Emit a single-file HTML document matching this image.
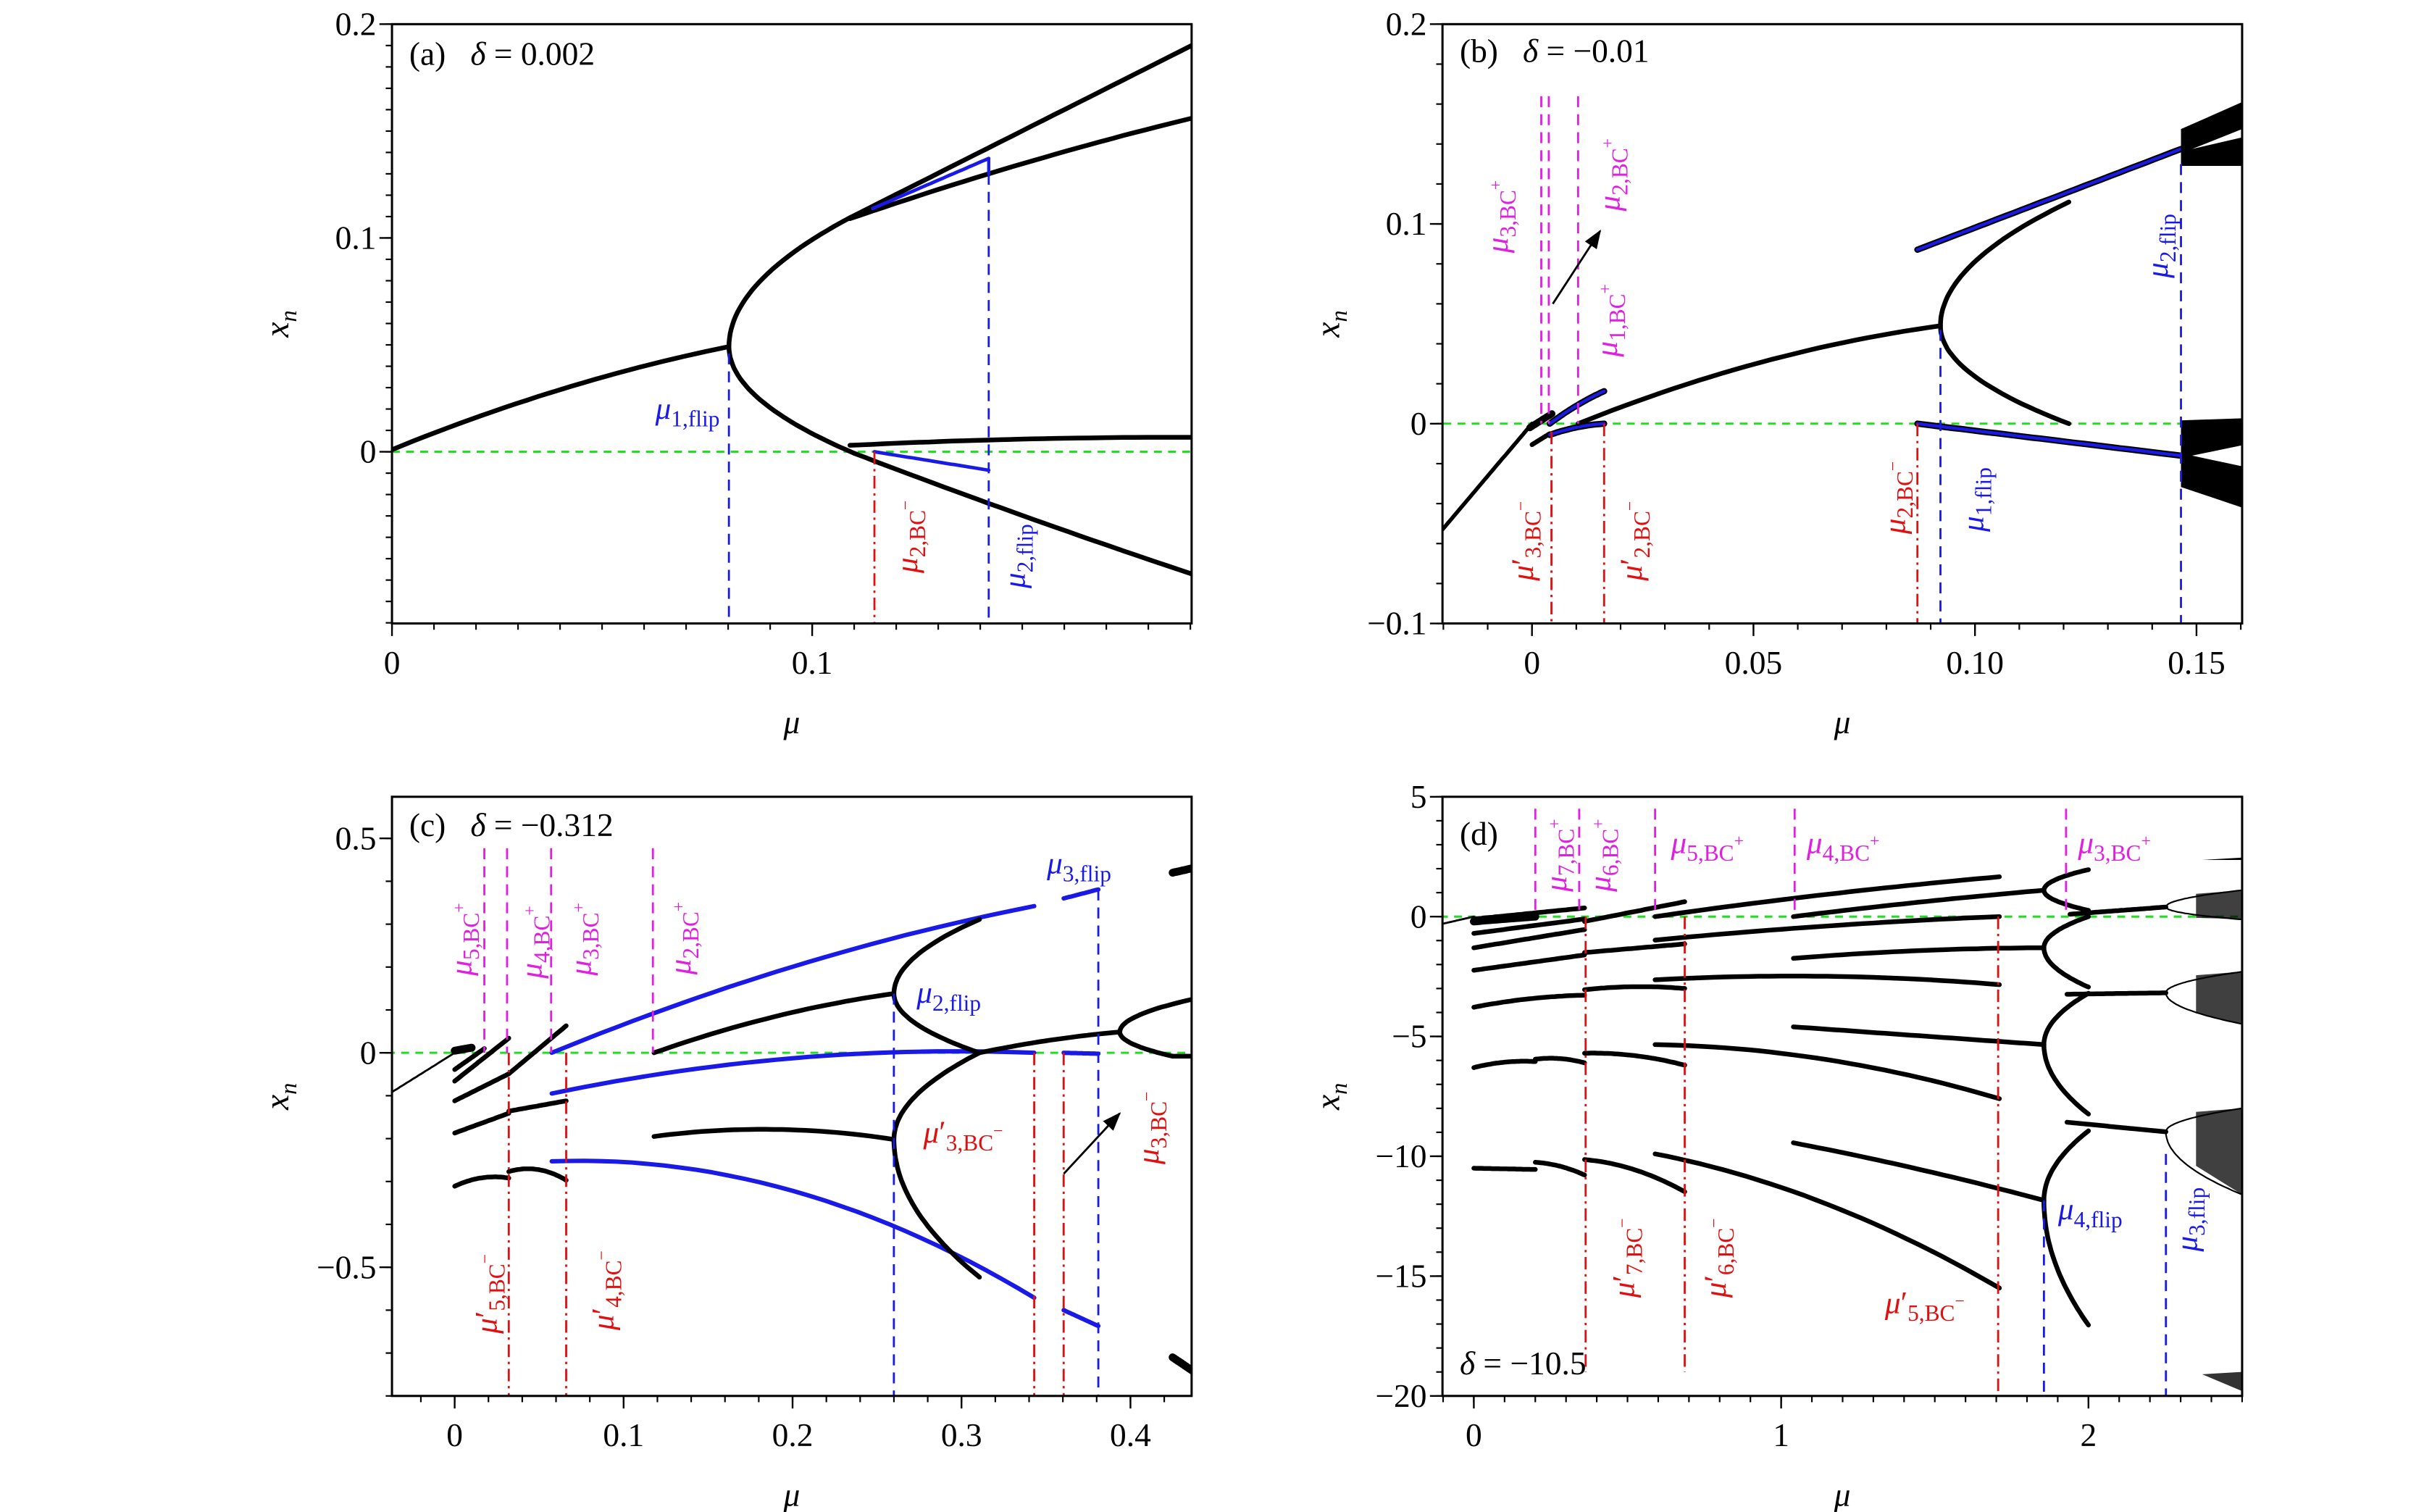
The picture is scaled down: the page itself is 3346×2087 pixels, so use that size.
<!DOCTYPE html>
<html><head><meta charset="utf-8"><style>html,body{margin:0;padding:0;background:#fff}svg{display:block}</style></head>
<body>
<svg id="s" xmlns="http://www.w3.org/2000/svg" width="3346" height="2087" viewBox="0 0 1546 964" preserveAspectRatio="none" font-family="'Liberation Serif','DejaVu Serif',serif"></svg>
<script>
const P={
a:{px0:250,px1:760,py0:15.4,py1:397.5,xmin:0,xmax:0.1903,ymin:-0.0803,ymax:0.2},
b:{px0:920,px1:1430,py0:15.4,py1:397.5,xmin:-0.0202,xmax:0.1603,ymin:-0.1,ymax:0.2},
c:{px0:250,px1:760,py0:508,py1:890,xmin:-0.0371,xmax:0.4362,ymin:-0.8,ymax:0.597},
d:{px0:920,px1:1430,py0:508,py1:890,xmin:-0.102,xmax:2.5,ymin:-20,ymax:5}};
const X=(p,m)=>p.px0+(m-p.xmin)/(p.xmax-p.xmin)*(p.px1-p.px0);
const Y=(p,v)=>p.py1-(v-p.ymin)/(p.ymax-p.ymin)*(p.py1-p.py0);
let out=[];
const K='#000',B='#1a1ae6',R='#e01010',M='#e020e0',G='#22dd22';
let cur;
function pl(pts,col,w,dash,cap){out.push(`<polyline clip-path="url(#cl${cur.id})" points="${pts.map(q=>X(cur,q[0]).toFixed(1)+','+Y(cur,q[1]).toFixed(1)).join(' ')}" fill="none" stroke="${col}" stroke-width="${w}" ${dash?`stroke-dasharray="${dash}"`:''} stroke-linecap="${cap||(dash?'butt':'round')}" stroke-linejoin="round"/>`);}
function seg(m0,x0,m1,x1,bend,col,w){bend=bend||0;let pts=[];for(let i=0;i<=30;i++){let t=i/30;pts.push([m0+(m1-m0)*t,x0+(x1-x0)*t+4*bend*t*(1-t)]);}pl(pts,col||K,w||3);}
function bseg(m0,x0,m1,x1,bend){seg(m0,x0,m1,x1,bend,K,4);seg(m0,x0,m1,x1,bend,B,2);}
function arm(vm,vx,em,ex,col,w){let pts=[];for(let i=0;i<=30;i++){let t=i/30;pts.push([vm+(em-vm)*t*t,vx+(ex-vx)*t]);}pl(pts,col||K,w||3);}
function vl(m,a,b,col,dash,w){pl([[m,a],[m,b]],col,w||1.3,dash);}
function poly(pts,fill,op){out.push(`<polygon clip-path="url(#cl${cur.id})" points="${pts.map(q=>X(cur,q[0]).toFixed(1)+','+Y(cur,q[1]).toFixed(1)).join(' ')}" fill="${fill}" fill-opacity="${op||1}"/>`);}
const DB='7,4.5',DR='8,3,1.5,3',DG='5,4';
function L(sub,sup,prime){return `<tspan font-style="italic">μ</tspan>${prime?'′':''}<tspan dy="5" font-size="14.5">${sub}</tspan>${sup?`<tspan dy="-9" font-size="11">${sup}</tspan>`:''}`;}
function rl(m,v,c,col){let x=X(cur,m)+7,y=Y(cur,v);out.push(`<text transform="translate(${x.toFixed(1)},${y.toFixed(1)}) rotate(-90)" text-anchor="middle" font-size="20" fill="${col}">${c}</text>`);}
function hl(m,v,c,col,anchor){out.push(`<text x="${X(cur,m).toFixed(1)}" y="${Y(cur,v).toFixed(1)}" text-anchor="${anchor||'start'}" font-size="20" fill="${col}">${c}</text>`);}
function arrow(m0,x0,m1,x1){out.push(`<line x1="${X(cur,m0)}" y1="${Y(cur,x0)}" x2="${X(cur,m1)}" y2="${Y(cur,x1)}" stroke="#000" stroke-width="1.3" marker-end="url(#ah)"/>`);}
function axes(p,xt,xs,yt,ys){
 out.push(`<rect x="${p.px0}" y="${p.py0}" width="${p.px1-p.px0}" height="${p.py1-p.py0}" fill="none" stroke="#000" stroke-width="1.4"/>`);
 for(let v=Math.ceil(p.xmin/xs-1e-6)*xs;v<=p.xmax+1e-9;v+=xs){let x=X(p,v);out.push(`<line x1="${x}" y1="${p.py1}" x2="${x}" y2="${p.py1+4}" stroke="#000" stroke-width="1"/>`);}
 for(let v=Math.ceil(p.ymin/ys-1e-6)*ys;v<=p.ymax+1e-9;v+=ys){let y=Y(p,v);out.push(`<line x1="${p.px0-4}" y1="${y}" x2="${p.px0}" y2="${y}" stroke="#000" stroke-width="1"/>`);}
 xt.forEach(t=>{let x=X(p,t[0]);out.push(`<line x1="${x}" y1="${p.py1}" x2="${x}" y2="${p.py1+8}" stroke="#000" stroke-width="1.1"/><text x="${x}" y="${p.py1+32}" text-anchor="middle" font-size="21">${t[1]}</text>`);});
 yt.forEach(t=>{let y=Y(p,t[0]);out.push(`<line x1="${p.px0-8}" y1="${y}" x2="${p.px0}" y2="${y}" stroke="#000" stroke-width="1.1"/><text x="${p.px0-10}" y="${y+7}" text-anchor="end" font-size="21">${t[1]}</text>`);});
 out.push(`<text x="${(p.px0+p.px1)/2}" y="${p.py1+70}" text-anchor="middle" font-size="21" font-style="italic">μ</text>`);
 out.push(`<text transform="translate(${p.px0-66},${(p.py0+p.py1)/2}) rotate(-90)" text-anchor="middle" font-size="22"><tspan font-style="italic">x</tspan><tspan font-style="italic" font-size="15" dy="5">n</tspan></text>`);
}
function title(p,v,t){out.push(`<text x="${p.px0+11}" y="${Y(p,v)}" font-size="21" xml:space="preserve">${t}</text>`);}
let defs='<defs><marker id="ah" markerWidth="12" markerHeight="9" refX="11" refY="4.5" orient="auto" markerUnits="userSpaceOnUse"><path d="M0,0 L12,4.5 L0,9 Z" fill="#000"/></marker>';
for(const k in P){P[k].id=k;defs+=`<clipPath id="cl${k}"><rect x="${P[k].px0}" y="${P[k].py0}" width="${P[k].px1-P[k].px0}" height="${P[k].py1-P[k].py0}"/></clipPath>`;}
defs+='</defs>';
// ---------- a
cur=P.a;
pl([[0,0],[0.19,0]],G,1.4,DG);
seg(0,0.001,0.0802,0.0492,0.004);
arm(0.0802,0.0492,0.109,0.1095);arm(0.0802,0.0492,0.110,-0.0007);
seg(0.109,0.1095,0.1903,0.190,0);seg(0.109,0.109,0.1903,0.156,0.002);
seg(0.110,-0.0007,0.1903,-0.0571,-0.001);seg(0.109,0.003,0.1903,0.0068,0.001);
seg(0.1144,0.1138,0.142,0.1372,0,B,2.2);vl(0.142,0.1372,0.130,B,null,2);
seg(0.1148,0,0.142,-0.0086,0,B,2.2);
vl(0.0802,0.046,-0.08,B,DB);vl(0.142,0.13,-0.08,B,DB);vl(0.1148,0,-0.08,R,DR);
hl(0.078,0.0155,L('1,flip'),B,'end');
rl(0.1224,-0.0397,L('2,BC','−'),R);rl(0.148,-0.0488,L('2,flip'),B);
title(P.a,0.181,'(a)   <tspan font-style="italic">δ</tspan> = 0.002');
axes(P.a,[[0,'0'],[0.1,'0.1']],0.01,[[0,'0'],[0.1,'0.1'],[0.2,'0.2']],0.01);
// ---------- b
cur=P.b;
pl([[-0.02,0],[0.16,0]],G,1.4,DG);
seg(-0.0202,-0.053,0,0,0,K,2.5);
seg(-0.0005,-0.002,0.0045,0.005,0,K,4.5);
seg(0,-0.0105,0.004,-0.005,0,K,3);
bseg(0.004,0,0.0163,0.0163,0.001);bseg(0.004,-0.0056,0.0163,0,0.001);
seg(0.0104,0,0.0922,0.049,0.006);
arm(0.0922,0.049,0.1212,0.111);arm(0.0922,0.049,0.1212,0);
bseg(0.087,0.0871,0.1465,0.1375,0);bseg(0.087,0,0.1465,-0.016,0);
poly([[0.1465,0.1475],[0.1603,0.161],[0.1603,0.129],[0.1465,0.129]],K);
poly([[0.149,0.1375],[0.1603,0.1475],[0.1603,0.1433]],'#fff');
poly([[0.1465,0.0017],[0.1603,0.0027],[0.1603,-0.042],[0.1465,-0.0317]],K);
poly([[0.149,-0.016],[0.1603,-0.0108],[0.1603,-0.0213]],'#fff');
vl(0.0021,0.164,0,M,DB);vl(0.0038,0.164,0,M,DB);vl(0.0104,0.164,0,M,DB);
arrow(0.0047,0.06,0.0154,0.0965);
vl(0.0044,-0.004,-0.1,R,DR);vl(0.0163,0,-0.1,R,DR);vl(0.087,0,-0.1,R,DR);
vl(0.0922,0.047,-0.1,B,DB);vl(0.1465,0.13,-0.1,B,DB);
rl(-0.008,0.1037,L('3,BC','+'),M);rl(0.0173,0.1246,L('2,BC','+'),M);rl(0.0167,0.0517,L('1,BC','+'),M);
rl(-0.0023,-0.0587,L('3,BC','−',1),R);rl(0.0223,-0.0587,L('2,BC','−',1),R);rl(0.0817,-0.037,L('2,BC','−'),R);
rl(0.0994,-0.038,L('1,flip'),B);rl(0.141,0.089,L('2,flip'),B);
title(P.b,0.181,'(b)   <tspan font-style="italic">δ</tspan> = −0.01');
axes(P.b,[[0,'0'],[0.05,'0.05'],[0.1,'0.10'],[0.15,'0.15']],0.01,[[-0.1,'−0.1'],[0,'0'],[0.1,'0.1'],[0.2,'0.2']],0.02);
// ---------- c
cur=P.c;
pl([[-0.04,0],[0.44,0]],G,1.4,DG);
seg(-0.0371,-0.0915,0,0,0,K,1.3);
seg(0,0.005,0.01,0.012,0,K,5);
seg(0,-0.039,0.0176,0.01,0);seg(0,-0.066,0.032,0.034,0);
seg(0,-0.112,0.032,-0.049,0);seg(0.032,-0.049,0.066,0.063,0);
seg(0,-0.187,0.032,-0.141,0);seg(0.032,-0.136,0.066,-0.112,0);
seg(0,-0.311,0.032,-0.292,0.01);seg(0.032,-0.277,0.066,-0.297,0.015);
seg(0.0575,0,0.343,0.342,0.03,B,2.8);seg(0.3605,0.36,0.381,0.381,0,B,2.8);
seg(0.0575,-0.095,0.343,0,0.035,B,2.8);seg(0.3605,0,0.381,-0.002,0,B,2.8);
seg(0.0575,-0.253,0.343,-0.571,0.09,B,2.8);seg(0.3605,-0.600,0.381,-0.637,0,B,2.8);
seg(0.118,0,0.26,0.138,0.015);seg(0.118,-0.195,0.26,-0.202,0.02);
arm(0.26,0.138,0.3106,0.311);arm(0.26,0.138,0.3106,0);
arm(0.26,-0.202,0.3106,0);arm(0.26,-0.202,0.3106,-0.523);
seg(0.3106,0,0.3937,0.0486,0.005);
arm(0.3937,0.0486,0.4362,0.1245);arm(0.3937,0.0486,0.425,-0.008);seg(0.425,-0.008,0.4362,-0.008,0);
seg(0.425,0.42,0.4362,0.43,0,K,5);seg(0.425,-0.71,0.4362,-0.74,0,K,5);
[0.0176,0.031,0.0571,0.1173].forEach(m=>vl(m,0.477,0,M,DB));
vl(0.032,0,-0.8,R,DR);vl(0.066,0,-0.8,R,DR);vl(0.343,0,-0.8,R,DR);vl(0.3605,0,-0.8,R,DR);
vl(0.26,0.138,-0.8,B,DB);vl(0.381,0.381,-0.8,B,DB);
arrow(0.3605,-0.282,0.3937,-0.141);
rl(0.0033,0.2646,L('5,BC','+'),M);rl(0.0449,0.258,L('4,BC','+'),M);rl(0.074,0.265,L('3,BC','+'),M);rl(0.133,0.267,L('2,BC','+'),M);
hl(0.2734,0.1167,L('2,flip'),B);hl(0.3505,0.418,L('3,flip'),B);hl(0.2774,-0.209,L('3,BC','−',1),R);
rl(0.41,-0.175,L('3,BC','−'),R);rl(0.0183,-0.562,L('5,BC','−',1),R);rl(0.0874,-0.554,L('4,BC','−',1),R);
title(P.c,0.505,'(c)   <tspan font-style="italic">δ</tspan> = −0.312');
axes(P.c,[[0,'0'],[0.1,'0.1'],[0.2,'0.2'],[0.3,'0.3'],[0.4,'0.4']],0.02,[[-0.5,'−0.5'],[0,'0'],[0.5,'0.5']],0.1);
// ---------- d
cur=P.d;
pl([[-0.11,0],[2.5,0]],G,1.4,DG);
seg(-0.102,-0.3,0,0,0,K,1.3);
seg(0,-0.2,0.2,0,0,K,5);
seg(0,-0.1,0.36,0.36,0);seg(0,-0.7,0.36,-0.1,0);seg(0,-1.3,0.36,-0.54,0);seg(0,-2.24,0.36,-1.6,0);
seg(0,-3.78,0.36,-3.28,0.1);seg(0,-6.3,0.2,-6.05,0.1);seg(0.2,-5.95,0.36,-6.1,0.1);
seg(0,-10.5,0.2,-10.55,0);seg(0.2,-10.25,0.36,-10.78,0.1);
seg(0.36,-0.2,0.686,0.62,0);seg(0.36,-1.5,0.686,-1.14,0);seg(0.36,-3.05,0.686,-3.0,0.1);
seg(0.36,-5.7,0.686,-6.2,0.15);seg(0.36,-10.14,0.686,-11.48,0.25);
seg(0.59,0,1.71,1.66,0.1);seg(0.59,-0.98,1.71,0,0.1);seg(0.59,-2.64,1.71,-2.84,0.25);
seg(0.59,-5.34,1.71,-7.6,0.5);seg(0.59,-9.9,1.71,-15.5,0.7);
seg(1.04,0,1.855,1.1,0.05);seg(1.04,-1.74,1.855,-1.3,0.1);seg(1.04,-4.6,1.855,-5.34,0);seg(1.04,-9.44,1.855,-11.84,0.1);
arm(1.855,1.1,2.0,1.96);arm(1.855,1.1,2.0,0.26);
arm(1.855,-1.3,2.0,0);arm(1.855,-1.3,2.0,-2.94);
arm(1.855,-5.34,2.0,-3.2);arm(1.855,-5.34,2.0,-8.24);
arm(1.855,-11.84,2.0,-8.94);arm(1.855,-11.84,2.0,-17.04);
seg(1.94,0.1,2.252,0.4,0);seg(1.93,-3.24,2.252,-3.18,0);seg(1.93,-8.58,2.252,-8.98,0);
arm(2.252,0.4,2.5,1.1,K,1);arm(2.252,0.4,2.5,-0.12,K,1);
arm(2.252,-3.18,2.5,-2.3,K,1);arm(2.252,-3.18,2.5,-4.48,K,1);
arm(2.252,-8.98,2.5,-8.0,K,1);arm(2.252,-8.98,2.5,-11.6,K,1);
poly([[2.35,0.95],[2.5,1.1],[2.5,-0.1],[2.35,-0.05]],K,0.75);
poly([[2.35,-2.45],[2.5,-2.3],[2.5,-4.5],[2.35,-4.0]],K,0.75);
poly([[2.35,-8.15],[2.5,-8.0],[2.5,-11.6],[2.35,-10.4]],K,0.75);
poly([[2.37,2.36],[2.5,2.46],[2.5,2.36]],K);poly([[2.37,-19.1],[2.5,-19.0],[2.5,-19.8]],K,0.8);
[0.2,0.343,0.59,1.044,1.927].forEach(m=>vl(m,4.5,0,M,DB));
vl(0.364,0,-19,R,DR);vl(0.686,0,-19,R,DR);vl(1.706,0,-20,R,DR);
vl(1.855,-11.84,-20,B,DB);vl(2.252,-9.9,-20,B,DB);
rl(0.265,2.56,L('7,BC','+'),M);rl(0.408,2.56,L('6,BC','+'),M);
hl(0.6416,2.66,L('5,BC','+'),M);hl(1.083,2.66,L('4,BC','+'),M);hl(1.966,2.66,L('3,BC','+'),M);
rl(0.486,-14.24,L('7,BC','−',1),R);rl(0.784,-14.24,L('6,BC','−',1),R);
hl(1.338,-16.54,L('5,BC','−',1),R);hl(1.901,-12.64,L('4,flip'),B);rl(2.317,-12.64,L('3,flip'),B);
title(P.d,3.0,'(d)');
title(P.d,-19.1,'<tspan font-style="italic">δ</tspan> = −10.5');
axes(P.d,[[0,'0'],[1,'1'],[2,'2']],0.1,[[5,'5'],[0,'0'],[-5,'−5'],[-10,'−10'],[-15,'−15'],[-20,'−20']],1);
document.getElementById('s').innerHTML=defs+out.join('');
</script>
</body></html>
